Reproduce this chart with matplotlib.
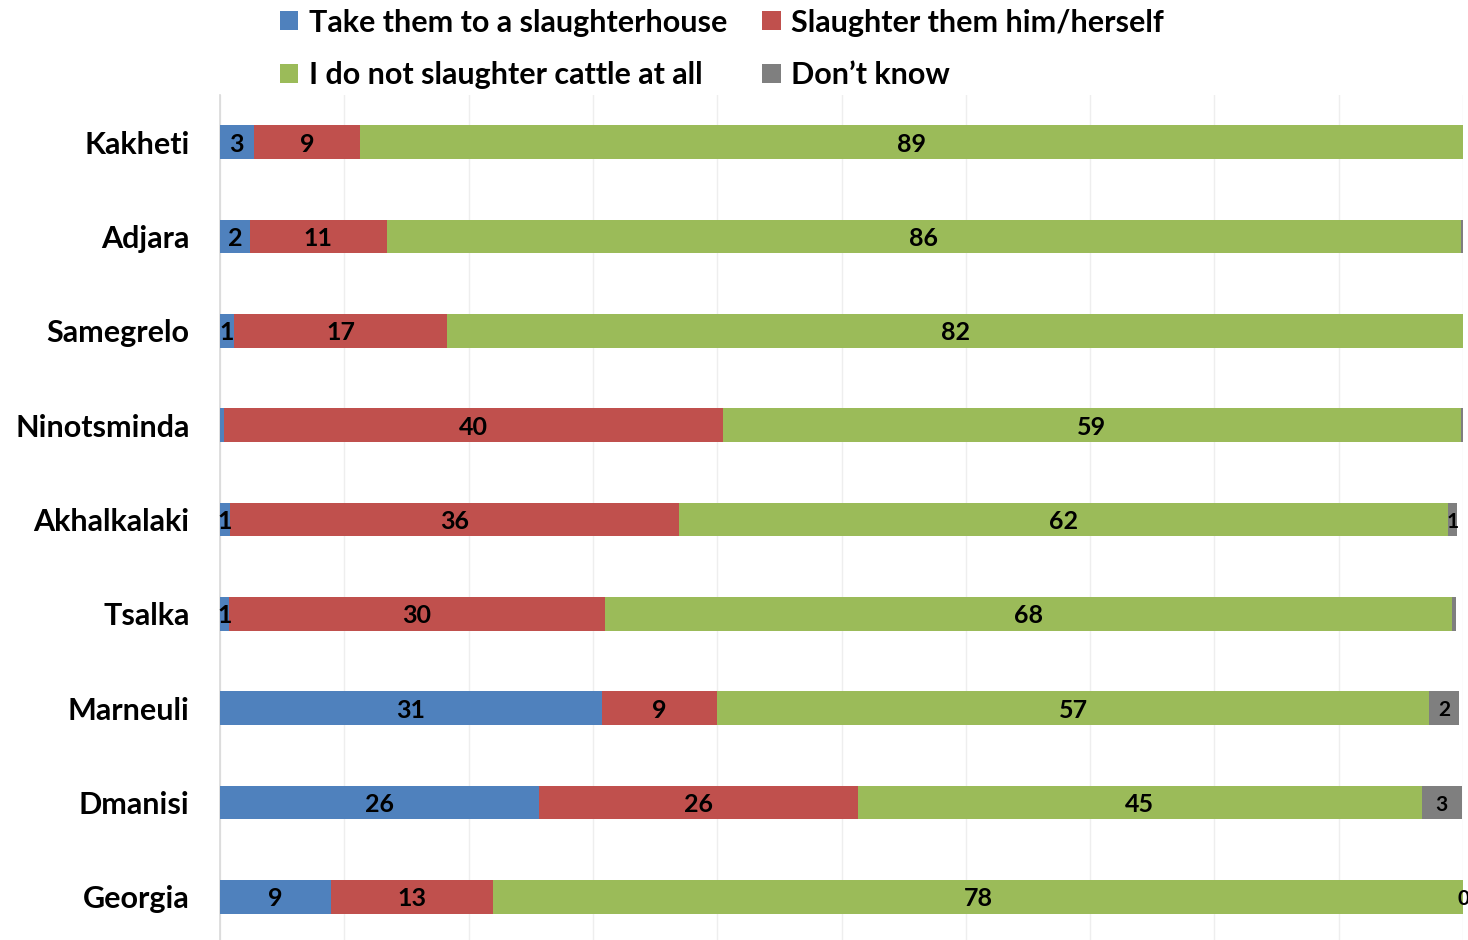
import matplotlib
matplotlib.use("Agg")
import matplotlib.pyplot as plt
from matplotlib.patches import Patch
import numpy as np

regions = ["Kakheti", "Adjara", "Samegrelo", "Ninotsminda", "Akhalkalaki",
           "Tsalka", "Marneuli", "Dmanisi", "Georgia"]
series_names = ["Take them to a slaughterhouse", "Slaughter them him/herself",
                "I do not slaughter cattle at all", "Don\u2019t know"]
slaughterhouse = [2.7, 2.4, 1.1, 0.3, 0.8, 0.7, 30.7, 25.7, 8.9]
himself = [8.6, 11.0, 17.2, 40.2, 36.1, 30.3, 9.3, 25.6, 13.1]
not_at_all = [88.7, 86.4, 81.7, 59.3, 61.9, 68.1, 57.3, 45.4, 78.0]
dont_know = [0.0, 0.2, 0.0, 0.2, 0.7, 0.3, 2.4, 3.2, 0.04]
# which data labels are shown in the original (Excel hid the tiny ones)
show_slaughterhouse = [1, 1, 1, 0, 1, 1, 1, 1, 1]
show_himself = [1, 1, 1, 1, 1, 1, 1, 1, 1]
show_not_at_all = [1, 1, 1, 1, 1, 1, 1, 1, 1]
show_dont_know = [0, 0, 0, 0, 1, 0, 1, 1, 1]

colors = ["#4F81BD", "#C0504D", "#9BBB59", "#7F7F7F"]

plt.rcParams['font.family'] = ['Lato', 'DejaVu Sans']

W, H = 1468, 940
fig = plt.figure(figsize=(W / 100, H / 100), dpi=100)
ax = fig.add_axes([220 / W, -4 / H, 1243 / W, (944 - 95) / H])

y = np.arange(len(regions))
data = [slaughterhouse, himself, not_at_all, dont_know]
shows = [show_slaughterhouse, show_himself, show_not_at_all, show_dont_know]
left = np.zeros(len(regions))
handles = []
for vals, show, col, name in zip(data, shows, colors, series_names):
    vals = np.array(vals)
    bars = ax.barh(y, vals, left=left, height=0.36, color=col, label=name,
                   zorder=3, linewidth=0)
    labels = [f"{round(v):d}" if s else "" for v, s in zip(vals, show)]
    fs = 15 if col == "#7F7F7F" else 18
    texts = ax.bar_label(bars, labels=labels, label_type='center', fontsize=fs,
                         fontweight='bold', color='black', zorder=4)
    for t in texts:
        t.set_va('center_baseline')
    left = left + vals
    handles.append(Patch(facecolor=col, label=name))

ax.set_xlim(0, 100)
ax.set_ylim(len(regions) - 0.5, -0.5)
ax.set_yticks(y)
ax.set_yticklabels(regions, fontsize=22, fontweight='bold')
ax.tick_params(axis='y', length=0, pad=22)
ax.set_xticks(np.arange(0, 101, 10))
ax.tick_params(axis='x', length=0, labelbottom=False)
ax.grid(axis='x', color='#EEEEEE', linewidth=1, zorder=0)
for s in ['top', 'right', 'bottom']:
    ax.spines[s].set_visible(False)
ax.spines['left'].set_color('#D9D9D9')
ax.spines['left'].set_linewidth(1.2)

order = [handles[0], handles[2], handles[1], handles[3]]
fig.legend(handles=order, labels=[h.get_label() for h in order],
           loc='upper left', bbox_to_anchor=(252 / W, 1.0 + 19 / H), ncol=2,
           frameon=False, handlelength=0.6, handleheight=0.6,
           handletextpad=0.35, columnspacing=1.16, labelspacing=0.81,
           prop={'weight': 'bold', 'size': 22})

fig.savefig("out.png", dpi=100)
